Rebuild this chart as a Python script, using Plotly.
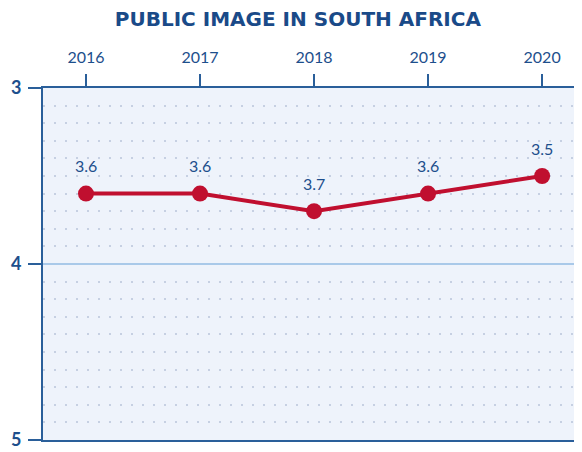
import plotly.graph_objects as go

years = [2016, 2017, 2018, 2019, 2020]
scores = [3.6, 3.6, 3.7, 3.6, 3.5]
labels = ["3.6", "3.6", "3.7", "3.6", "3.5"]
title = "PUBLIC IMAGE IN SOUTH AFRICA"

navy = "#1d4f8c"
fig = go.Figure()
fig.add_trace(go.Scatter(
    x=years, y=scores, mode="lines+markers",
    line=dict(color="#c00f2f", width=4),
    marker=dict(size=16, color="#c00f2f"),
    hoverinfo="skip", showlegend=False,
))
for x, y, t in zip(years, scores, labels):
    fig.add_annotation(x=x, y=y, text=t, showarrow=False, yshift=28,
                       font=dict(family="Lato", size=16, color=navy))

fig.update_layout(
    width=582, height=452,
    margin=dict(l=35, r=0, t=80, b=20, autoexpand=False),
    paper_bgcolor="white", plot_bgcolor="#eef3fb",
    title=dict(text="<b>" + title + "</b>", x=0.498, xanchor="center", y=0.976, yanchor="middle",
               font=dict(family="DejaVu Sans", size=20, color="#1a4a88")),
)
fig.update_xaxes(
    side="top", range=[2015.623, 2020.42], tickvals=years, ticktext=[str(y) for y in years],
    showgrid=False, zeroline=False, automargin=False,
    showline=True, mirror=True, linecolor="#2a5f9a", linewidth=2,
    ticks="outside", ticklen=12, tickwidth=2, tickcolor="#2a5f9a", ticklabelstandoff=5,
    tickfont=dict(family="Lato", size=16, color=navy),
)
fig.update_yaxes(
    range=[5, 3], tickvals=[3, 4, 5], ticktext=["3", "4", "5"], automargin=False,
    showgrid=True, gridcolor="#a9c9e9", gridwidth=2,
    minor=dict(dtick=0.1, showgrid=True, gridcolor="#c6d0e2", gridwidth=1.5, griddash="1.5px,9.5px"),
    zeroline=False, showline=True, linecolor="#2a5f9a", linewidth=2,
    ticks="outside", ticklen=13, tickwidth=2, tickcolor="#2a5f9a", ticklabelstandoff=3,
    tickfont=dict(family="Lato", size=18, color=navy, weight="bold"),
)
fig.write_html("out.html")
